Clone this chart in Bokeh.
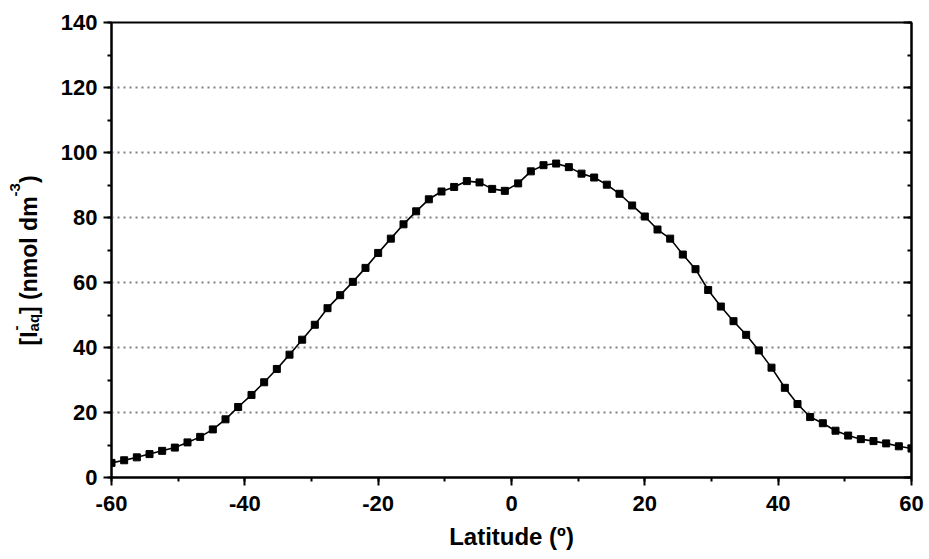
import math
from bokeh.plotting import figure
from bokeh.layouts import row
from bokeh.models import Range1d, LinearAxis, SingleIntervalTicker, CustomJSTickFormatter, Label
from bokeh.embed import file_html
from bokeh.resources import INLINE

latitude = [-60.0, -58.1, -56.2, -54.3, -52.4, -50.5, -48.6, -46.7, -44.8, -42.9,
            -41.0, -39.0, -37.1, -35.2, -33.3, -31.4, -29.5, -27.6, -25.7, -23.8,
            -21.9, -20.0, -18.1, -16.2, -14.3, -12.4, -10.5, -8.6, -6.7, -4.8,
            -2.9, -1.0, 1.0, 2.9, 4.8, 6.7, 8.6, 10.5, 12.4, 14.3,
            16.2, 18.1, 20.0, 21.9, 23.8, 25.7, 27.6, 29.5, 31.4, 33.3,
            35.2, 37.1, 39.0, 41.0, 42.9, 44.8, 46.7, 48.6, 50.5, 52.4,
            54.3, 56.2, 58.1, 60.0]
iodide = [4.5, 5.3, 6.2, 7.2, 8.2, 9.2, 10.8, 12.5, 14.8, 17.9,
          21.7, 25.4, 29.3, 33.4, 37.8, 42.4, 47.0, 52.1, 56.1, 60.2,
          64.5, 69.1, 73.5, 77.9, 81.9, 85.6, 88.0, 89.4, 91.2, 90.8,
          88.8, 88.2, 90.5, 94.2, 96.1, 96.6, 95.5, 93.5, 92.3, 90.1,
          87.3, 83.7, 80.3, 76.3, 73.5, 68.6, 64.1, 57.7, 52.6, 48.1,
          43.9, 39.1, 33.8, 27.6, 22.6, 18.6, 16.7, 14.4, 12.9, 11.8,
          11.2, 10.5, 9.6, 8.9]

x_title = "Latitude (\u00ba)"
y_title_parts = ["[I", "-", "aq", "] (nmol dm", "-3", ")"]
FONT = "Liberation Sans"

H = 559
LW = 56

# ---- narrow strip holding the composed y-axis title ----
lab = figure(width=LW, height=H, output_backend="svg", toolbar_location=None,
             x_range=Range1d(0, LW), y_range=Range1d(0, H),
             x_axis_type=None, y_axis_type=None, min_border=0,
             min_border_left=0, min_border_right=0, min_border_top=0, min_border_bottom=0)
lab.outline_line_color = None
lab.grid.visible = False
lab.background_fill_color = "white"
lab.border_fill_color = "white"

big = 23
small = 15
x0 = 28
y0 = 132
w_open = 0.611 * big
w_aq = 1.167 * small
w_mid = 5.111 * big
w_sup3 = 0.889 * small
offsets = [
    (x0, y0, big),
    (x0 - 13, y0 + w_open + 1, small),
    (x0 + 5, y0 + w_open, small),
    (x0, y0 + w_open + w_aq, big),
    (x0 - 14, y0 + w_open + w_aq + w_mid, small),
    (x0, y0 + w_open + w_aq + w_mid + w_sup3, big),
]
for txt, (lx, ly, sz) in zip(y_title_parts, offsets):
    lab.add_layout(Label(x=lx, y=ly, x_units="screen", y_units="screen", text=txt,
                         angle=math.pi / 2, text_font=FONT, text_font_style="bold",
                         text_font_size=f"{sz}px", text_color="black",
                         text_align="left", text_baseline="alphabetic"))

# ---- main chart ----
p = figure(width=929 - LW, height=H, output_backend="svg", toolbar_location=None,
           x_range=Range1d(-60, 60), y_range=Range1d(0, 140),
           min_border_left=111 - LW, min_border_right=18, min_border_top=22,
           min_border_bottom=82)
p.background_fill_color = "white"
p.border_fill_color = "white"
p.outline_line_color = "black"
p.outline_line_width = 2

p.xgrid.visible = False
p.ygrid.grid_line_color = "#808080"
p.ygrid.grid_line_width = 1.8
p.ygrid.grid_line_dash = "2 4"
p.ygrid.ticker = SingleIntervalTicker(interval=20, num_minor_ticks=2)

fmt = CustomJSTickFormatter(code="return tick.toFixed(0);")
for ax in (p.xaxis[0], p.yaxis[0]):
    ax.ticker = SingleIntervalTicker(interval=20, num_minor_ticks=2)
    ax.formatter = fmt
    ax.axis_line_width = 2
    ax.axis_line_color = "black"
    ax.major_tick_line_width = 2
    ax.minor_tick_line_width = 2
    ax.major_tick_out = 8
    ax.major_tick_in = 0
    ax.minor_tick_out = 4
    ax.minor_tick_in = 0
    ax.major_label_text_font = FONT
    ax.major_label_text_font_style = "bold"
    ax.major_label_text_font_size = "22px"
    ax.major_label_text_color = "black"

p.xaxis.axis_label = x_title
p.xaxis.axis_label_text_font = FONT
p.xaxis.axis_label_text_font_style = "bold"
p.xaxis.axis_label_text_font_size = "24px"
p.xaxis.axis_label_text_color = "black"
p.xaxis.axis_label_standoff = 9
p.xaxis.major_label_standoff = 10
p.yaxis.major_label_standoff = 6

right = LinearAxis(ticker=SingleIntervalTicker(interval=20, num_minor_ticks=2),
                   formatter=CustomJSTickFormatter(code="return '';"),
                   axis_line_width=2, major_tick_line_width=2, minor_tick_line_width=2,
                   major_tick_in=8, major_tick_out=0, minor_tick_in=4, minor_tick_out=0,
                   major_label_standoff=0)
p.add_layout(right, "right")

p.line(latitude, iodide, line_color="black", line_width=1.6)
p.scatter(latitude, iodide, marker="square", size=7, fill_color="black", line_color="black")

layout = row(lab, p, spacing=0)
open("out.html", "w").write(file_html(layout, INLINE))
